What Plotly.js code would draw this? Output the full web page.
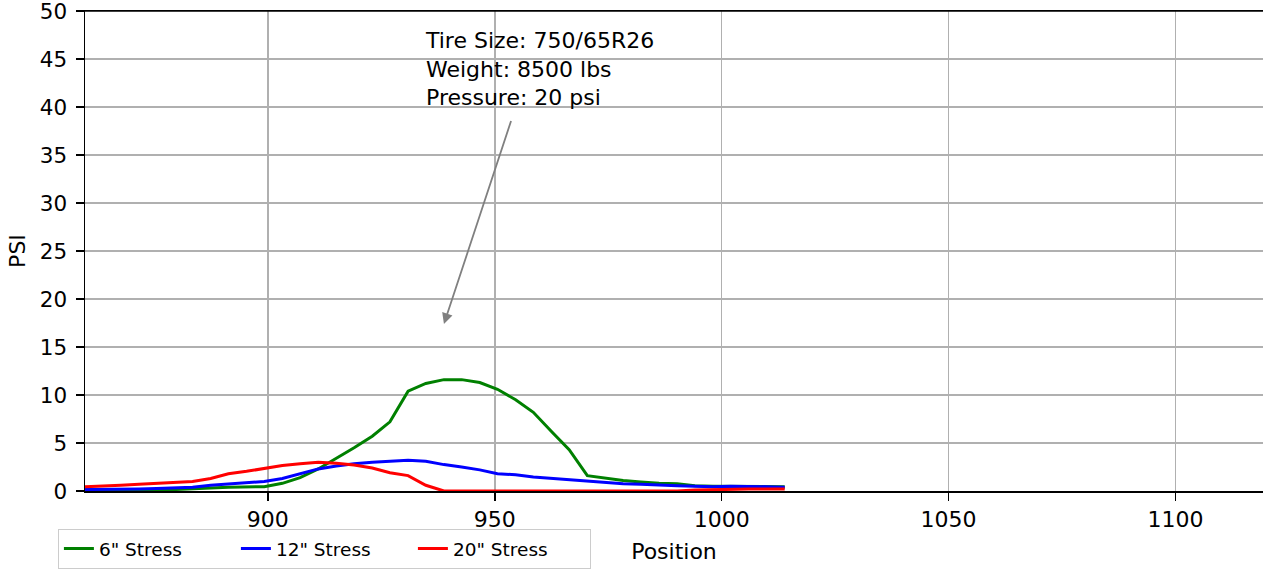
<!DOCTYPE html>
<html>
<head>
<meta charset="utf-8">
<script src="https://cdn.plot.ly/plotly-3.0.1.min.js"></script>
<style>html,body{margin:0;padding:0;background:#fff;}#chart{width:1263px;height:569px;}</style>
</head>
<body>
<div id="chart"></div>
<script>
// Positions along the tire contact path
const positions = [859.7, 863.7, 867.6, 871.6, 875.5, 879.5, 883.4, 887.4, 891.3, 895.3,
  899.2, 903.2, 907.1, 911.1, 915.1, 919.0, 923.0, 926.9, 930.9, 934.8,
  938.8, 942.7, 946.7, 950.6, 954.6, 958.5, 962.5, 966.4, 970.4, 974.3,
  978.3, 982.2, 986.2, 990.2, 994.1, 998.1, 1002.0, 1006.0, 1009.9, 1013.9];

const stress6 = [0.05, 0.05, 0.05, 0.1, 0.1, 0.15, 0.2, 0.3, 0.4, 0.45,
  0.45, 0.8, 1.4, 2.3, 3.4, 4.5, 5.7, 7.2, 10.4, 11.2,
  11.6, 11.6, 11.3, 10.6, 9.5, 8.2, 6.2, 4.3, 1.6, 1.35,
  1.1, 0.95, 0.8, 0.75, 0.55, 0.5, 0.5, 0.5, 0.45, 0.45];

const stress12 = [0.15, 0.15, 0.2, 0.2, 0.25, 0.3, 0.4, 0.6, 0.75, 0.9,
  1.0, 1.3, 1.8, 2.3, 2.6, 2.85, 3.0, 3.1, 3.2, 3.1,
  2.75, 2.5, 2.2, 1.8, 1.7, 1.45, 1.3, 1.2, 1.0, 0.9,
  0.75, 0.7, 0.6, 0.55, 0.5, 0.45, 0.5, 0.5, 0.45, 0.4];

const stress20 = [0.45, 0.5, 0.6, 0.7, 0.8, 0.9, 1.0, 1.3, 1.8, 2.05,
  2.35, 2.65, 2.85, 3.0, 2.9, 2.7, 2.4, 1.9, 1.6, 0.6,
  0.0, 0.0, 0.0, 0.0, 0.0, 0.0, 0.0, 0.0, 0.0, 0.0,
  0.0, 0.0, 0.0, 0.0, 0.1, 0.15, 0.2, 0.2, 0.2, 0.2];

const seriesNames = ['6" Stress', '12" Stress', '20" Stress'];
const seriesColors = ['#008000', '#0000ff', '#ff0000'];

const xTicks = [900, 950, 1000, 1050, 1100];
const yTicks = [0, 5, 10, 15, 20, 25, 30, 35, 40, 45, 50];

const infoLines = ['Tire Size: 750/65R26', 'Weight: 8500 lbs', 'Pressure: 20 psi'];
const arrowTip = [938.8, 17.4];
const arrowTail = [953.7, 38.7];
const textAnchor = [934.2, 48.4];

const FONT = 'DejaVu Sans, Liberation Sans, sans-serif';

const traces = [stress6, stress12, stress20].map((ys, i) => ({
  type: 'scatter', mode: 'lines', x: positions, y: ys,
  name: seriesNames[i], line: {color: seriesColors[i], width: 3}
}));

const layout = {
  width: 1263, height: 569,
  margin: {l: 85, r: 0, t: 11, b: 77},
  paper_bgcolor: '#fff', plot_bgcolor: '#fff',
  font: {family: FONT, color: '#000', size: 22},
  showlegend: true,
  legend: {
    orientation: 'h', x: -0.023, y: -0.079, xanchor: 'left', yanchor: 'top',
    bordercolor: '#cccccc', borderwidth: 1, bgcolor: 'rgba(255,255,255,0.8)',
    font: {family: FONT, size: 18.5, color: '#000'}, tracegroupgap: 0,
    entrywidth: 132, entrywidthmode: 'pixels'
  },
  xaxis: {
    range: [859.7, 1119.3], tickvals: xTicks, ticktext: xTicks.map(String),
    showgrid: true, gridcolor: '#b0b0b0', gridwidth: 1.5,
    showline: true, linecolor: '#000', linewidth: 1.5, mirror: true,
    ticks: 'outside', ticklen: 8, tickwidth: 1.5, tickcolor: '#000',
    zeroline: false, tickfont: {family: FONT, size: 22}, ticklabeloverflow: 'allow',
    title: {text: 'Position', font: {family: FONT, size: 22}, standoff: 12},
    automargin: false
  },
  yaxis: {
    range: [0, 50], tickvals: yTicks, ticktext: yTicks.map(String),
    showgrid: true, gridcolor: '#b0b0b0', gridwidth: 1.5,
    showline: true, linecolor: '#000', linewidth: 1.5, mirror: true,
    ticks: 'outside', ticklen: 8, tickwidth: 1.5, tickcolor: '#000',
    zeroline: false, tickfont: {family: FONT, size: 21.5}, ticklabeloverflow: 'allow',
    ticklabelstandoff: 4,
    title: {text: 'PSI', font: {family: FONT, size: 22}, standoff: 8},
    automargin: false
  },
  shapes: [
    {type: 'line', xref: 'paper', yref: 'paper', x0: 0, x1: 1, y0: 1, y1: 1,
     line: {color: '#000', width: 1.5}, layer: 'above'}
  ],
  annotations: [
    {
      x: textAnchor[0], y: textAnchor[1], xref: 'x', yref: 'y',
      xanchor: 'left', yanchor: 'top', align: 'left', showarrow: false,
      text: infoLines.join('<br>'), font: {family: FONT, size: 22, color: '#000'}
    },
    {
      x: arrowTip[0], y: arrowTip[1], xref: 'x', yref: 'y',
      ax: arrowTail[0], ay: arrowTail[1], axref: 'x', ayref: 'y',
      text: '', showarrow: true, arrowhead: 2, arrowsize: 1.2, arrowwidth: 1.8,
      arrowcolor: '#808080'
    }
  ]
};

Plotly.newPlot('chart', traces, layout, {displayModeBar: false, staticPlot: true});
</script>
</body>
</html>
